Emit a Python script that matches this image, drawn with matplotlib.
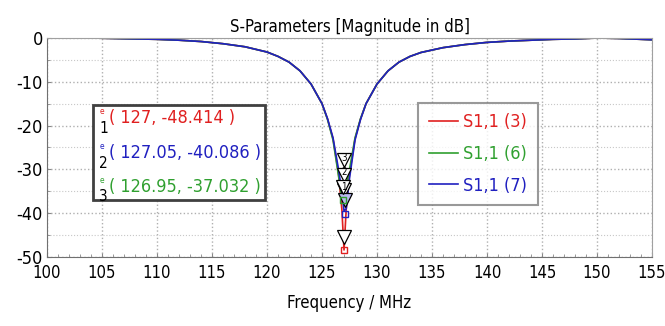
import matplotlib

matplotlib.use("Agg")
import matplotlib.pyplot as plt
from matplotlib.ticker import MultipleLocator

plt.rcParams["font.family"] = ["DejaVu Sans"]
plt.rcParams["font.stretch"] = "condensed"
plt.rcParams["axes.unicode_minus"] = False

# S1,1 traces (MHz, dB)
freq = [100, 102, 104, 106, 108, 110, 112, 114, 116, 118, 120, 121, 122, 123,
        124, 125, 125.5, 126, 126.5, 126.8, 127, 127.2, 127.5, 128, 128.5, 129,
        130, 131, 132, 133, 134, 136, 138, 140, 142, 144, 146, 148, 150, 152,
        154, 155]
s11_3 = [0.1, 0.2, 0.0, -0.1, -0.2, -0.3, -0.5, -0.8, -1.3, -2.0, -3.2, -4.2,
         -5.5, -7.5, -10.5, -15.0, -18.5, -23.0, -31.0, -39.0, -48.4, -39.0,
         -31.0, -23.0, -18.5, -15.0, -10.5, -7.5, -5.5, -4.2, -3.3, -2.2, -1.5,
         -1.0, -0.7, -0.5, -0.3, -0.2, 0.0, -0.1, -0.3, -0.4]
s11_6 = [0.1, 0.2, 0.0, -0.1, -0.2, -0.3, -0.5, -0.8, -1.3, -2.0, -3.2, -4.2,
         -5.5, -7.5, -10.5, -15.0, -18.6, -23.3, -31.5, -36.5, -35.5, -34.0,
         -30.0, -22.8, -18.4, -15.0, -10.5, -7.5, -5.5, -4.2, -3.3, -2.2, -1.5,
         -1.0, -0.7, -0.5, -0.3, -0.2, 0.0, -0.1, -0.3, -0.4]
s11_7 = [0.1, 0.2, 0.0, -0.1, -0.2, -0.3, -0.5, -0.8, -1.3, -2.0, -3.2, -4.2,
         -5.5, -7.5, -10.5, -15.0, -18.4, -22.8, -30.0, -35.0, -39.5, -39.0,
         -32.0, -23.3, -18.6, -15.0, -10.5, -7.5, -5.5, -4.2, -3.3, -2.2, -1.5,
         -1.0, -0.7, -0.5, -0.3, -0.2, 0.0, -0.1, -0.3, -0.4]

series_labels = ["S1,1 (3)", "S1,1 (6)", "S1,1 (7)"]
series_colors = ["#e02020", "#30a030", "#2020c0"]

# markers: number, frequency, value, colour
marker_ids = ["1", "2", "3"]
marker_x = [127, 127.05, 126.95]
marker_y = [-48.414, -40.086, -37.032]
marker_colors = ["#e02020", "#2020c0", "#30a030"]

# layout of the marker tags (dB position of the numbered triangles)
tag_y = [-34.7, -31.3, -27.9]
tip_fill = ["white", "#b8b8f0", "white"]

fig = plt.figure(figsize=(6.65, 3.26), dpi=100)
ax = fig.add_axes([0.0707, 0.2117, 0.9098, 0.6717])

for ys, lab, col in zip([s11_3, s11_6, s11_7], series_labels, series_colors):
    ax.plot(freq, ys, color=col, lw=1.2, label=lab)

# marker glyphs: hollow down-triangles stacked over the dip
for mid, mx, my, mc, ty, tf in zip(marker_ids, marker_x, marker_y,
                                   marker_colors, tag_y, tip_fill):
    ax.plot(mx, my, marker="s", ms=4, mfc="none", mec=mc, mew=1, zorder=6)
    ax.plot(mx, my + 3, marker="v", ms=10, mfc=tf, mec="black",
            mew=0.9, zorder=5)
    ax.plot(127, ty, marker="v", ms=10, mfc="white", mec="black",
            mew=0.9, zorder=5)
    ax.text(127, ty + 0.6, mid, ha="center", va="center", fontsize=7,
            color="black", zorder=7)

ax.set_xlim(100, 155)
ax.set_ylim(-50, 0)
ax.xaxis.set_major_locator(MultipleLocator(5))
ax.yaxis.set_major_locator(MultipleLocator(10))
ax.yaxis.set_minor_locator(MultipleLocator(5))
ax.xaxis.set_minor_locator(MultipleLocator(1))
ax.grid(which="major", color="#b0b0b0", ls=":", lw=1)
ax.grid(which="minor", axis="y", color="#c8c8c8", ls=":", lw=0.8)
ax.tick_params(which="both", direction="in", labelsize=13, length=3,
               color="#888888")
ax.tick_params(axis="x", pad=5, labelsize=12)
ax.tick_params(axis="y", pad=3)
ax.tick_params(which="minor", length=2)
for sp in ax.spines.values():
    sp.set_color("#a0a0a0")
ax.spines["bottom"].set_color("#707070")
ax.spines["left"].set_color("#707070")

ax.set_title("S-Parameters [Magnitude in dB]", fontsize=12, pad=4)
ax.set_xlabel("Frequency / MHz", fontsize=12, labelpad=9)

# marker readout box
readout = [f"( {x:g}, {y:.3f} )" for x, y in zip(marker_x, marker_y)]
box_y = [-18.3, -26.3, -34.0]
ax.add_patch(plt.Rectangle((104.2, -37.0), 15.6, 21.7, fc="white",
                           ec="#404040", lw=2, zorder=8))
for mid, txt, col, yy in zip(marker_ids, readout, marker_colors, box_y):
    ax.text(104.75, yy + 1.0, "e", color=col, fontsize=6, zorder=9)
    ax.text(104.75, yy - 2.3, mid, color="black", fontsize=11, va="center",
            zorder=9)
    ax.text(105.6, yy, txt, color=col, fontsize=13, va="center", zorder=9)

leg = ax.legend(loc="upper left", bbox_to_anchor=(0.613, 0.705), fontsize=13,
                frameon=True, fancybox=False, edgecolor="#808080",
                handlelength=1.6, handletextpad=0.3, labelspacing=0.75,
                borderpad=0.6, borderaxespad=0)
leg.get_frame().set_linewidth(1.5)
for t, c in zip(leg.get_texts(), series_colors):
    t.set_color(c)

fig.savefig("out.png", dpi=100)
